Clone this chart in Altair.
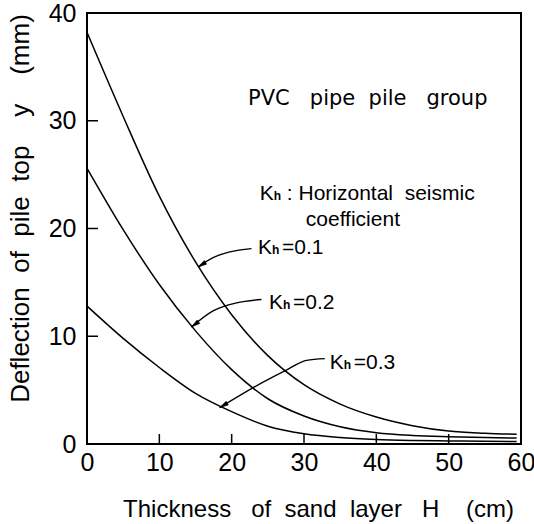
import altair as alt
import pandas as pd

NB = "\u00a0"

# ---------------- data ----------------
H = [0, 5, 10, 15, 20, 25, 30, 35, 40, 45, 50, 55, 59.4]
kh_01 = [38.2, 30.4, 23.0, 16.9, 12.0, 8.2, 5.5, 3.7, 2.5, 1.7, 1.2, 1.0, 0.9]
kh_02 = [25.6, 19.9, 14.8, 10.5, 6.9, 4.2, 2.6, 1.6, 1.05, 0.8, 0.68, 0.6, 0.55]
kh_03 = [12.8, 9.8, 7.1, 4.7, 3.0, 1.65, 0.95, 0.6, 0.42, 0.33, 0.28, 0.25, 0.23]
series = ["0.1", "0.2", "0.3"]

x_ticks = [0, 10, 20, 30, 40, 50, 60]
y_ticks = [0, 10, 20, 30, 40]
inner_x_ticks = [10, 20, 30, 40, 50]
inner_y_ticks = [10, 20, 30]

# leader arrows (H, y), from the curve to the label
arrow_01_H = [15.35, 17.43, 19.74, 22.74]
arrow_01_y = [16.43, 17.30, 17.83, 18.14]
arrow_02_H = [14.44, 17.43, 20.66, 24.12]
arrow_02_y = [10.86, 12.35, 13.09, 13.41]
arrow_03_H = [18.35, 22.74, 27.34, 30.34, 32.88]
arrow_03_y = [3.38, 5.14, 6.78, 7.77, 7.93]
tip_H = [15.35, 14.44, 18.35]
tip_y = [16.43, 10.86, 3.38]
tip_angle = [238, 233, 239]

# label anchors (data units)
k_H = [23.89, 23.65, 25.17, 33.57]
k_y = [22.63, 17.59, 12.57, 7.0]
k_rest = [":" + NB + "Horizontal" + NB * 2 + "seismic", "=0.1", "=0.2", "=0.3"]
pvc_H, pvc_y = [22.27], [31.45]
pvc_text = ["PVC" + NB * 3 + "pipe" + NB * 2 + "pile" + NB * 3 + "group"]
coef_H, coef_y, coef_text = [30.25], [20.21], ["coefficient"]

x_title = "Thickness" + NB * 3 + "of" + NB * 2 + "sand" + NB * 2 + "layer" + NB * 3 + "H" + NB * 4 + "(cm)"
y_title = "Deflection" + NB * 2 + "of" + NB * 2 + "pile" + NB * 2 + "top" + NB * 4 + "y" + NB * 4 + "(mm)"

# ---------------- tables ----------------
curves = pd.DataFrame({
    "H": H * 3,
    "y": kh_01 + kh_02 + kh_03,
    "Kh": [series[0]] * len(H) + [series[1]] * len(H) + [series[2]] * len(H),
})
arrows = pd.DataFrame({
    "H": arrow_01_H + arrow_02_H + arrow_03_H,
    "y": arrow_01_y + arrow_02_y + arrow_03_y,
    "id": ["a1"] * len(arrow_01_H) + ["a2"] * len(arrow_02_H) + ["a3"] * len(arrow_03_H),
})
tips = pd.DataFrame({"H": tip_H, "y": tip_y, "ang": tip_angle})
klab = pd.DataFrame({"H": k_H, "y": k_y, "rest": k_rest})
pvc = pd.DataFrame({"H": pvc_H, "y": pvc_y, "t": pvc_text})
coef = pd.DataFrame({"H": coef_H, "y": coef_y, "t": coef_text})
xt = pd.DataFrame({"H": inner_x_ticks})
yt = pd.DataFrame({"y": inner_y_ticks})

FONT = "Liberation Sans"

x_enc = alt.X(
    "H:Q",
    scale=alt.Scale(domain=[0, 60], nice=False, zero=False),
    axis=alt.Axis(
        values=x_ticks, title=x_title,
        labelFlush=False, labelPadding=6, labelFontSize=25,
        titleX=231, titleY=72, titleBaseline="alphabetic", titleAlign="center",
        titleFontSize=24,
    ),
)
y_enc = alt.Y(
    "y:Q",
    scale=alt.Scale(domain=[0, 40], nice=False, zero=False),
    axis=alt.Axis(
        values=y_ticks, title=y_title,
        labelFlush=False, labelPadding=11, labelFontSize=25,
        titleX=-59, titleY=195, titleBaseline="alphabetic", titleAlign="center",
        titleFontSize=26,
    ),
)

lines = alt.Chart(curves).mark_line(
    color="black", strokeWidth=1.5, interpolate="monotone"
).encode(x=x_enc, y=y_enc, detail="Kh:N")

arrow_lines = alt.Chart(arrows).mark_line(
    color="black", strokeWidth=1.3, interpolate="monotone"
).encode(x="H:Q", y="y:Q", detail="id:N")

arrow_heads = alt.Chart(tips).mark_point(
    shape="M0,0L0.55,2.2L-0.55,2.2Z", filled=True, fill="black", stroke="black",
    strokeWidth=0.5, opacity=1, size=64
).encode(x="H:Q", y="y:Q", angle=alt.Angle("ang:Q", scale=None))

x_inner = alt.Chart(xt).mark_rule(color="black", strokeWidth=1.5).encode(
    x="H:Q", y=alt.value(431), y2=alt.value(421)
)
y_inner = alt.Chart(yt).mark_rule(color="black", strokeWidth=1.5).encode(
    y="y:Q", x=alt.value(0), x2=alt.value(11)
)

k_text = alt.Chart(klab).mark_text(
    align="left", baseline="alphabetic", font=FONT, fontSize=21, color="black"
).encode(x="H:Q", y="y:Q", text=alt.value("K"))
h_text = alt.Chart(klab).mark_text(
    align="left", baseline="alphabetic", font=FONT, fontSize=12, fontWeight="bold",
    color="black", dx=14
).encode(x="H:Q", y="y:Q", text=alt.value("h"))
rest_head = alt.Chart(klab.iloc[[0]]).mark_text(
    align="left", baseline="alphabetic", font=FONT, fontSize=21, color="black", dx=27
).encode(x="H:Q", y="y:Q", text="rest:N")
rest_vals = alt.Chart(klab.iloc[1:]).mark_text(
    align="left", baseline="alphabetic", font=FONT, fontSize=21, color="black", dx=24
).encode(x="H:Q", y="y:Q", text="rest:N")
pvc_text_l = alt.Chart(pvc).mark_text(
    align="left", baseline="alphabetic", font="DejaVu Sans", fontSize=21, color="black"
).encode(x="H:Q", y="y:Q", text="t:N")
coef_text_l = alt.Chart(coef).mark_text(
    align="left", baseline="alphabetic", font=FONT, fontSize=21, color="black"
).encode(x="H:Q", y="y:Q", text="t:N")

chart = alt.layer(
    lines, arrow_lines, arrow_heads, x_inner, y_inner,
    k_text, h_text, rest_head, rest_vals, pvc_text_l, coef_text_l,
).properties(
    width=434, height=431,
    padding={"left": 87, "top": 13, "right": 13, "bottom": 80},
    autosize=alt.AutoSizeParams(type="none"),
    background="white",
).configure_view(
    stroke="black", strokeWidth=2
).configure_axis(
    domain=False, ticks=False, grid=False,
    labelFont=FONT, labelColor="black",
    titleFont=FONT, titleColor="black", titleFontWeight="normal",
)

chart.save("out.html", embed_options={"renderer": "svg", "actions": False})
